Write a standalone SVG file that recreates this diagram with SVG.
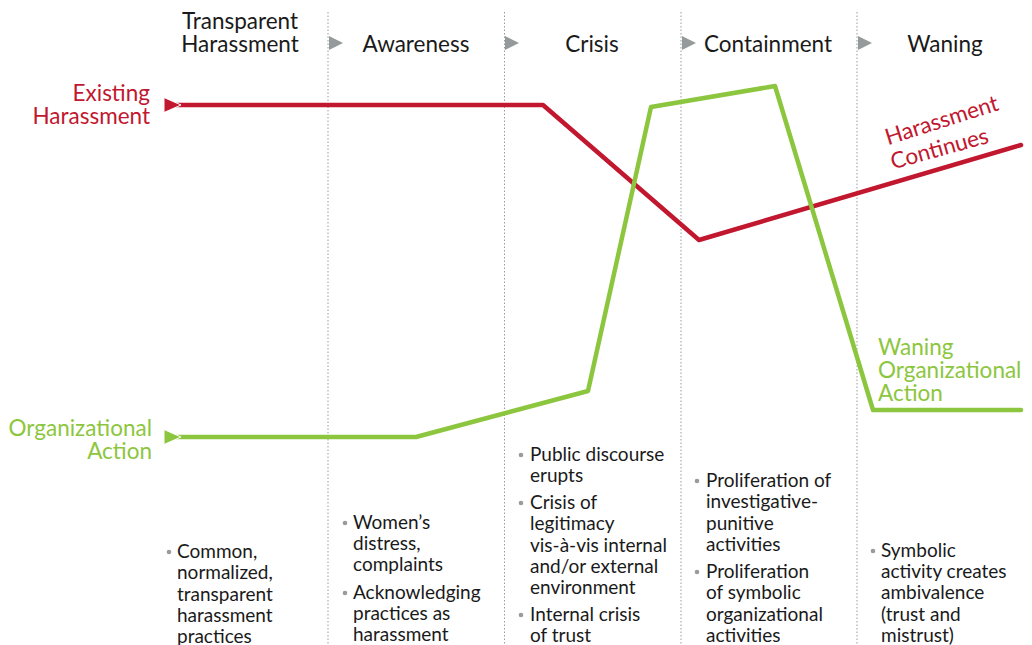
<svg xmlns="http://www.w3.org/2000/svg" width="1032" height="645" viewBox="0 0 1032 645">
<style>
.hd{font-family:Lato,"Open Sans",sans-serif;font-size:22.5px;fill:#1a1a1a;text-anchor:middle}
.bl{font-family:Lato,"Open Sans",sans-serif;font-size:19px;fill:#1a1a1a}
.dot{fill:#9a9a9a}
.red{fill:#c1172f;font-family:Lato,"Open Sans",sans-serif;font-size:22.5px}
.grn{fill:#8cc63e;font-family:Lato,"Open Sans",sans-serif;font-size:22.5px}
.div{stroke:#9a9a9a;stroke-width:1;stroke-dasharray:1.5 2}
.tri{fill:#959b9b}
</style>
<rect width="1032" height="645" fill="#fff"/>
<g id="dividers">
<line class="div" x1="328" y1="12" x2="328" y2="645"/>
<line class="div" x1="504.5" y1="12" x2="504.5" y2="645"/>
<line class="div" x1="681" y1="12" x2="681" y2="645"/>
<line class="div" x1="857" y1="12" x2="857" y2="645"/>
<polygon class="tri" points="329,36 343,43 329,50"/>
<polygon class="tri" points="505,36 519,43 505,50"/>
<polygon class="tri" points="682,36 696,43 682,50"/>
<polygon class="tri" points="858,36 872,43 858,50"/>
</g>
<g id="headers">
<text class="hd" x="240" y="29">Transparent</text>
<text class="hd" x="240" y="52">Harassment</text>
<text class="hd" x="416" y="52">Awareness</text>
<text class="hd" x="592" y="52">Crisis</text>
<text class="hd" x="768" y="52">Containment</text>
<text class="hd" x="945" y="52">Waning</text>
</g>
<g id="connectors" fill="none" stroke-linejoin="round">
<polyline points="176,105 543,105 699,240 1021,145" stroke="#c1172f" stroke-width="4.5" stroke-linecap="round"/>
<polyline points="176,437 416,437 588,391 651,107 775,86 873,410 1021,410" stroke="#8cc63e" stroke-width="4.5" stroke-linecap="round"/>
<polygon points="164,97.5 181,105 164,112.5" fill="#c1172f" stroke="#fff" stroke-width="1"/>
<polygon points="164,429.5 181,437 164,444.5" fill="#8cc63e" stroke="#fff" stroke-width="1"/>
</g>
<g id="existing-harassment">
<text class="red" x="150" y="101" text-anchor="end">Existing</text>
<text class="red" x="150" y="124" text-anchor="end">Harassment</text>
</g>
<g id="organizational-action">
<text class="grn" x="152" y="436" text-anchor="end">Organizational</text>
<text class="grn" x="152" y="459" text-anchor="end">Action</text>
</g>
<g id="harassment-continues">
<text class="red" x="944" y="127.5" text-anchor="middle" transform="rotate(-17.5 944 127.5)">Harassment</text>
<text class="red" x="941.5" y="156" text-anchor="middle" transform="rotate(-15.5 941.5 156)">Continues</text>
</g>
<g id="waning-action">
<text class="grn" x="878" y="355">Waning</text>
<text class="grn" x="878" y="378">Organizational</text>
<text class="grn" x="878" y="401">Action</text>
</g>
<g id="col1">
<circle class="dot" cx="169" cy="552" r="2.3"/>
<text class="bl" x="177"><tspan x="177" y="558">Common,</tspan><tspan x="177" y="579">normalized,</tspan><tspan x="177" y="601">transparent</tspan><tspan x="177" y="622">harassment</tspan><tspan x="177" y="643">practices</tspan></text>
</g>
<g id="col2">
<circle class="dot" cx="345" cy="523" r="2.3"/>
<text class="bl"><tspan x="353" y="529">Women’s</tspan><tspan x="353" y="550">distress,</tspan><tspan x="353" y="571">complaints</tspan></text>
<circle class="dot" cx="345" cy="593" r="2.3"/>
<text class="bl"><tspan x="353" y="599">Acknowledging</tspan><tspan x="353" y="620">practices as</tspan><tspan x="353" y="641">harassment</tspan></text>
</g>
<g id="col3">
<circle class="dot" cx="521" cy="455" r="2.3"/>
<text class="bl"><tspan x="530" y="461">Public discourse</tspan><tspan x="530" y="482">erupts</tspan></text>
<circle class="dot" cx="521" cy="503" r="2.3"/>
<text class="bl"><tspan x="530" y="509">Crisis of</tspan><tspan x="530" y="530">legitimacy</tspan><tspan x="530" y="552">vis-à-vis internal</tspan><tspan x="530" y="573">and/or external</tspan><tspan x="530" y="594">environment</tspan></text>
<circle class="dot" cx="521" cy="615" r="2.3"/>
<text class="bl"><tspan x="530" y="621">Internal crisis</tspan><tspan x="530" y="642">of trust</tspan></text>
</g>
<g id="col4">
<circle class="dot" cx="697" cy="481" r="2.3"/>
<text class="bl"><tspan x="706" y="487">Proliferation of</tspan><tspan x="706" y="508">investigative-</tspan><tspan x="706" y="530">punitive</tspan><tspan x="706" y="551">activities</tspan></text>
<circle class="dot" cx="697" cy="572" r="2.3"/>
<text class="bl"><tspan x="706" y="578">Proliferation</tspan><tspan x="706" y="599">of symbolic</tspan><tspan x="706" y="621">organizational</tspan><tspan x="706" y="642">activities</tspan></text>
</g>
<g id="col5">
<circle class="dot" cx="873" cy="551" r="2.3"/>
<text class="bl"><tspan x="881" y="557">Symbolic</tspan><tspan x="881" y="578">activity creates</tspan><tspan x="881" y="599">ambivalence</tspan><tspan x="881" y="621">(trust and</tspan><tspan x="881" y="642">mistrust)</tspan></text>
</g>
</svg>
